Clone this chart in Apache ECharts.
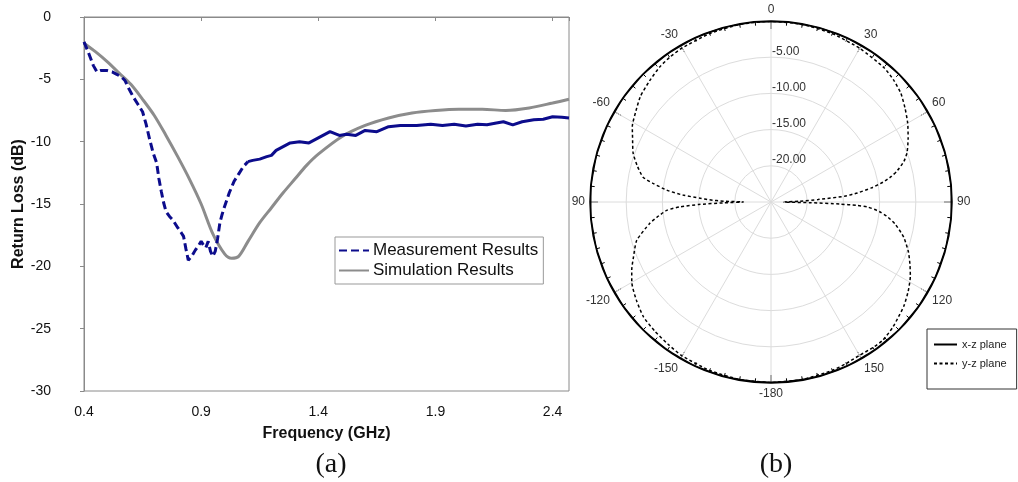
<!DOCTYPE html>
<html>
<head>
<meta charset="utf-8">
<script src="https://cdn.jsdelivr.net/npm/echarts@6/dist/echarts.min.js"></script>
<style>html,body{margin:0;padding:0;background:#fff}#c{width:1018px;height:482px}</style>
</head>
<body>
<div id="c"></div>
<script>
// ---------- (a) Return loss ----------
const measFreq = [0.40,0.42,0.44,0.455,0.47,0.50,0.52,0.54,0.56,0.575,0.59,0.61,0.63,0.65,0.665,0.68,0.695,0.71,0.72,0.73,0.74,0.75,0.765,0.78,0.80,0.815,0.825,0.835,0.845,0.86,0.875,0.89,0.90,0.91,0.92,0.93,0.94,0.95,0.96,0.97,0.98,0.99,1.00,1.02,1.04,1.06,1.08,1.10,1.12,1.15,1.18,1.20,1.22,1.25,1.28,1.32,1.36,1.40,1.45,1.49,1.52,1.56,1.60,1.65,1.70,1.75,1.82,1.88,1.93,1.98,2.03,2.08,2.12,2.16,2.19,2.23,2.27,2.32,2.36,2.40,2.44,2.47];
const measDb   = [-2.0,-2.9,-3.9,-4.4,-4.3,-4.3,-4.4,-4.6,-4.8,-5.1,-5.7,-6.4,-7.0,-7.6,-8.6,-9.8,-10.9,-11.7,-13.0,-14.0,-14.9,-15.6,-16.0,-16.3,-16.9,-17.3,-17.6,-18.6,-19.5,-19.2,-18.7,-18.3,-18.0,-18.3,-18.5,-18.0,-18.8,-19.2,-18.8,-17.8,-16.5,-15.8,-15.2,-14.1,-13.2,-12.6,-12.0,-11.6,-11.5,-11.4,-11.2,-11.1,-10.7,-10.4,-10.1,-10.0,-10.1,-9.7,-9.2,-9.5,-9.4,-9.5,-9.1,-9.2,-8.8,-8.7,-8.7,-8.6,-8.7,-8.6,-8.75,-8.6,-8.65,-8.5,-8.4,-8.65,-8.4,-8.25,-8.2,-8.0,-8.05,-8.1];
const simFreq = [0.40,0.45,0.50,0.55,0.60,0.65,0.70,0.75,0.80,0.85,0.90,0.95,1.00,1.03,1.06,1.10,1.15,1.20,1.25,1.30,1.35,1.40,1.50,1.60,1.70,1.80,1.90,2.00,2.10,2.20,2.30,2.40,2.47];
const simDb   = [-2.1,-2.8,-3.6,-4.5,-5.4,-6.6,-7.9,-9.5,-11.2,-13.0,-15.0,-17.4,-19.0,-19.35,-19.2,-18.0,-16.5,-15.3,-14.1,-13.0,-11.9,-11.0,-9.6,-8.7,-8.1,-7.7,-7.5,-7.4,-7.4,-7.5,-7.3,-6.9,-6.6];
const freqTickLabels = ['0.4','0.9','1.4','1.9','2.4'];
const lossTickLabels = ['0','-5','-10','-15','-20','-25','-30'];

// ---------- (b) Radiation pattern ----------
const yzAngle = [-180,-170,-160,-150,-144,-138,-132,-126,-120,-116,-112,-106,-100,-97,-94.5,-93,-92,-91,-90,-89,-88,-87,-85.5,-83.5,-81,-79,-75,-70.5,-65,-61.5,-56,-51,-45,-39.5,-35,-30,-20,-10,0,10,20,30,40,45,50,55,60,65,70,73,76,78,80,82,84,85.5,87,88.5,90,91,91.7,92.3,93,95,97,100,105,110,114,118,123,128,132,136,141,145,150,155,160,170,180];
const yzDb    = [-0.05,-0.1,-0.25,-0.45,-0.75,-1.0,-1.3,-2.0,-2.8,-3.6,-4.5,-5.7,-8.0,-9.4,-10.6,-12.5,-15,-18.5,-21.2,-18.5,-16.5,-15.2,-12.8,-10.5,-8.5,-7.0,-5.9,-4.8,-3.9,-3.2,-2.5,-1.8,-1.3,-0.83,-0.6,-0.44,-0.25,-0.1,-0.05,-0.1,-0.25,-0.5,-0.75,-1.1,-1.6,-2.4,-3.2,-4.1,-5.0,-5.8,-7.0,-8.0,-9.3,-11.0,-13.0,-14.8,-18.5,-21,-23.2,-19.5,-15.5,-13.2,-11.6,-10.0,-8.9,-7.6,-6.0,-4.8,-4.0,-3.2,-2.4,-1.7,-1.3,-0.85,-0.45,-0.45,-0.55,-0.4,-0.25,-0.1,-0.05];
const xzAngle = [-180,-170,-160,-150,-140,-130,-120,-110,-100,-90,-80,-70,-60,-50,-40,-30,-20,-10,0,10,20,30,40,50,60,70,80,90,100,110,120,130,140,150,160,170,180];
const xzDb    = [0,0,0,0,0,0,0,0,0,0,0,0,0,0,0,0,0,0,0,0,0,0,0,0,0,0,0,0,0,0,0,0,0,0,0,0,0];
const angleTickValues = [0,30,60,90,120,150,180,210,240,270,300,330,360];
const angleTickLabels = ['0','30','60','90','120','150','-180','-150','-120','90','-60','-30',''];

const toPolarAngle = a => (a < 0 ? a + 360 : a);
const measPts = measFreq.map((f, i) => [f, measDb[i]]);
const measDashed = measPts.filter(p => p[0] <= 1.10);
const measSolid = measPts.filter(p => p[0] >= 1.10);
const simPts = simFreq.map((f, i) => [f, simDb[i]]);
const yzPts = yzAngle.map((a, i) => [yzDb[i], toPolarAngle(a)]);
const xzPts = xzAngle.map((a, i) => [xzDb[i], toPolarAngle(a)]);

const FONT = '"Liberation Sans", Arial, sans-serif';
const chart = echarts.init(document.getElementById('c'));
chart.setOption({
  animation: false,
  backgroundColor: '#fff',
  textStyle: { fontFamily: FONT },
  title: [
    { text: '(a)', left: 326, top: 446, textAlign: 'center', textStyle: { fontFamily: '"Liberation Serif", "Times New Roman", serif', fontSize: 28, fontWeight: 'normal', color: '#111' } },
    { text: '(b)', left: 771, top: 446, textAlign: 'center', textStyle: { fontFamily: '"Liberation Serif", "Times New Roman", serif', fontSize: 28, fontWeight: 'normal', color: '#111' } }
  ],
  grid: { left: 84, top: 17, width: 485, height: 374, show: true, borderColor: '#8a8a8a', borderWidth: 1, backgroundColor: '#fff' },
  xAxis: [{
    type: 'value', min: 0.4, max: 2.47, interval: 0.5, position: 'bottom',
    name: 'Frequency (GHz)', nameLocation: 'middle', nameGap: 35,
    nameTextStyle: { fontFamily: FONT, fontSize: 16, fontWeight: 'bold', color: '#111' },
    axisLine: { show: true, lineStyle: { color: '#8a8a8a' } },
    axisTick: { show: false },
    splitLine: { show: false },
    axisLabel: { margin: 14, fontSize: 14, color: '#111', showMaxLabel: false,
      formatter: v => { const k = Math.round((v - 0.4) / 0.5); return Math.abs(0.4 + 0.5 * k - v) < 1e-6 ? freqTickLabels[k] || '' : ''; } }
  }, {
    type: 'value', min: 0.4, max: 2.47, interval: 0.5, position: 'top',
    axisLine: { show: false }, axisTick: { show: true, inside: true, length: 4, lineStyle: { color: '#8a8a8a' } },
    axisLabel: { show: false }, splitLine: { show: false }
  }],
  yAxis: {
    type: 'value', min: -30, max: 0, interval: 5,
    name: 'Return Loss (dB)', nameLocation: 'middle', nameGap: 54,
    nameTextStyle: { fontFamily: FONT, fontSize: 16, fontWeight: 'bold', color: '#111' },
    axisLine: { show: true, lineStyle: { color: '#8a8a8a' } },
    axisTick: { show: true, length: 4, lineStyle: { color: '#8a8a8a' } },
    splitLine: { show: false },
    axisLabel: { margin: 33, fontSize: 14, color: '#111', formatter: v => lossTickLabels[Math.round(-v / 5)] }
  },
  polar: { center: [771, 202], radius: 181 },
  angleAxis: {
    type: 'value', min: 0, max: 360, interval: 30, startAngle: 90, clockwise: true,
    axisLine: { show: true, lineStyle: { color: '#000', width: 1.5 } },
    axisTick: { show: true, inside: true, length: 8, lineStyle: { color: '#000', width: 1 } },
    minorTick: { show: true, splitNumber: 6, length: 4, lineStyle: { color: '#000', width: 1 } },
    splitLine: { show: true, lineStyle: { color: '#dcdcdc', width: 1 } },
    axisLabel: { margin: 5, fontSize: 12, color: '#333',
      formatter: v => { const i = angleTickValues.indexOf(Math.round(v)); return i >= 0 ? angleTickLabels[i] : ''; } }
  },
  radiusAxis: {
    type: 'value', min: -25, max: 0, interval: 5,
    axisLine: { show: false }, axisTick: { show: false },
    splitLine: { show: true, lineStyle: { color: '#dcdcdc', width: 1 } },
    axisLabel: { margin: -1, align: 'left', verticalAlign: 'bottom', fontSize: 12, color: '#333',
      formatter: v => (v <= -25 || v >= 0) ? '' : v.toFixed(2) }
  },
  legend: [{
    data: ['Measurement Results', 'Simulation Results'],
    orient: 'vertical', left: 335, top: 237,
    padding: [5, 5, 5, 3], itemGap: 3, itemWidth: 30, itemHeight: 14,
    itemStyle: { opacity: 0 },
    borderColor: '#999', borderWidth: 1, backgroundColor: '#fff',
    textStyle: { fontFamily: FONT, fontSize: 17, color: '#111', padding: [0, 0, 0, -1] }
  }, {
    data: ['x-z plane', 'y-z plane'],
    orient: 'vertical', left: 927, top: 329,
    padding: [10, 10, 20, 6], itemGap: 8, itemWidth: 23, itemHeight: 12,
    itemStyle: { opacity: 0 },
    borderColor: '#333', borderWidth: 1, backgroundColor: '#fff',
    textStyle: { fontFamily: FONT, fontSize: 11, color: '#222' }
  }],
  series: [
    { name: 'Measurement Results', type: 'line', xAxisIndex: 0, yAxisIndex: 0, data: measDashed, showSymbol: false, symbol: 'none',
      lineStyle: { color: '#0c0c8c', width: 3, type: [8, 4] }, itemStyle: { color: '#0c0c8c' }, z: 3 },
    { name: 'Measurement Results', type: 'line', xAxisIndex: 0, yAxisIndex: 0, data: measSolid, showSymbol: false, symbol: 'none',
      lineStyle: { color: '#0c0c8c', width: 3 }, itemStyle: { color: '#0c0c8c' }, z: 3 },
    { name: 'Simulation Results', type: 'line', xAxisIndex: 0, yAxisIndex: 0, data: simPts, showSymbol: false, symbol: 'none', smooth: 0.3,
      lineStyle: { color: '#8c8c8c', width: 3 }, itemStyle: { color: '#8c8c8c' }, z: 2 },
    { name: 'x-z plane', type: 'line', coordinateSystem: 'polar', data: xzPts, showSymbol: false, symbol: 'none', smooth: true,
      lineStyle: { color: '#000', width: 3 }, itemStyle: { color: '#000' }, z: 3 },
    { name: 'y-z plane', type: 'line', coordinateSystem: 'polar', data: yzPts, showSymbol: false, symbol: 'none', smooth: 0.2,
      lineStyle: { color: '#000', width: 1.5, type: [3, 2.5] }, itemStyle: { color: '#000' }, z: 4 }
  ]
});
</script>
</body>
</html>
